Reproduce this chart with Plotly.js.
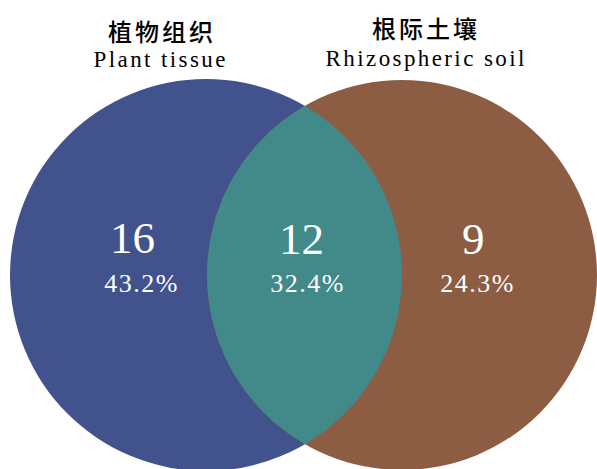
<!DOCTYPE html>
<html>
<head>
<meta charset="utf-8">
<script src="https://cdn.plot.ly/plotly-3.0.1.min.js"></script>
<style>
html,body{margin:0;padding:0;background:#fff;}
#chart{width:597px;height:469px;}
</style>
</head>
<body>
<div id="chart"></div>
<script>
// ---- data ----
var setNamesZh = ["植物组织", "根际土壤"];
var setNamesEn = ["Plant tissue", "Rhizospheric soil"];
var regionLabels = ["Plant tissue only", "Shared", "Rhizospheric soil only"];
var regionCounts = [16, 12, 9];

// ---- geometry / style ----
var W = 597, H = 469;
var left = {cx: 206, cy: 275, r: 196};
var right = {cx: 402, cy: 275, r: 195};
var colBlue = "#41528C", colTeal = "#428A8A", colBrown = "#8C5D42";
var serif = "Liberation Serif";
var cjk = "Noto Sans CJK SC";

var total = regionCounts.reduce(function(a,b){return a+b;},0);
var pct = regionCounts.map(function(v){return (v/total*100).toFixed(1)+"%";});

// lens between the two circles
var d = right.cx - left.cx;
var a = (d*d - right.r*right.r + left.r*left.r)/(2*d);
var hh = Math.sqrt(left.r*left.r - a*a);
var ix = left.cx + a;
var angL = Math.atan2(hh, a);
var angR = Math.atan2(hh, ix - right.cx);
var lx = [], ly = [], N = 120, i, t;
for (i = 0; i <= N; i++) {
  t = -angL + 2*angL*i/N;
  lx.push(left.cx + left.r*Math.cos(t)); ly.push(left.cy + left.r*Math.sin(t));
}
for (i = 0; i <= N; i++) {
  t = angR + (2*Math.PI - 2*angR)*i/N;
  lx.push(right.cx + right.r*Math.cos(t)); ly.push(right.cy + right.r*Math.sin(t));
}

var traces = [{
  type: "scatter", mode: "lines", x: lx, y: ly, fill: "toself",
  fillcolor: colTeal, line: {width: 0, color: colTeal}, hoverinfo: "skip", showlegend: false
}];

var shapes = [
  {type: "circle", xref: "x", yref: "y", x0: left.cx-left.r, x1: left.cx+left.r,
   y0: left.cy-left.r, y1: left.cy+left.r, fillcolor: colBlue, line: {width: 0}, layer: "below"},
  {type: "circle", xref: "x", yref: "y", x0: right.cx-right.r, x1: right.cx+right.r,
   y0: right.cy-right.r, y1: right.cy+right.r, fillcolor: colBrown, line: {width: 0}, layer: "below"}
];

function ann(txt, x, y, size, family, sp, color, weight) {
  return {text: txt, x: x, y: y, xref: "x", yref: "y", showarrow: false,
          xanchor: "center", yanchor: "middle",
          font: {size: size, family: family, color: color || "#000", weight: weight || "normal"}, _sp: sp};
}
var anns = [
  ann(setNamesZh[0], 162, 30, 24, cjk, 3, "#000", 500),
  ann(setNamesEn[0], 160, 59, 23, serif, 2.4),
  ann(setNamesZh[1], 426, 27, 24, cjk, 3, "#000", 500),
  ann(setNamesEn[1], 426, 58, 23, serif, 2.4),
  ann(String(regionCounts[0]), 132, 238, 45, serif, 0, "#fff"),
  ann(String(regionCounts[1]), 301, 239, 45, serif, 0, "#fff"),
  ann(String(regionCounts[2]), 473, 239, 45, serif, 0, "#fff"),
  ann(pct[0], 141, 283, 26, serif, 1.5, "#fff"),
  ann(pct[1], 307, 283, 26, serif, 1.5, "#fff"),
  ann(pct[2], 477, 283, 26, serif, 1.5, "#fff")
];
var spacings = anns.map(function(o){var s=o._sp; delete o._sp; return s;});

var layout = {
  width: W, height: H, margin: {l:0, r:0, t:0, b:0},
  paper_bgcolor: "#fff", plot_bgcolor: "#fff",
  xaxis: {range: [0, W], visible: false, fixedrange: true},
  yaxis: {range: [H, 0], visible: false, fixedrange: true},
  shapes: shapes, annotations: anns, showlegend: false
};

Plotly.newPlot("chart", traces, layout, {displayModeBar: false, staticPlot: true}).then(function(gd){
  var els = gd.querySelectorAll(".annotation");
  els.forEach(function(el, k){
    var tx = el.querySelector("text");
    if (tx && spacings[k]) tx.style.letterSpacing = spacings[k] + "px";
  });
});
</script>
</body>
</html>
